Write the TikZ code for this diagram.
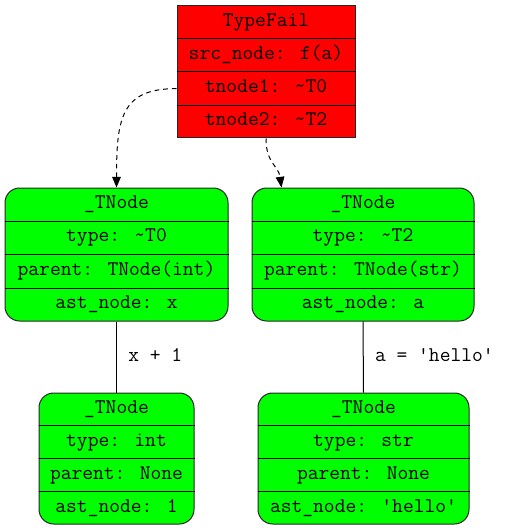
\documentclass[tikz,border=0pt]{standalone}
\usepackage{fontspec}
\usetikzlibrary{arrows.meta,calc,fit}
\newcommand\tl{\textasciitilde}
\newcommand\recrows[5]{%
  \node[rowtext] (#1-1) at ($(#1.north)!0.125!(#1.south)$) {#2};
  \node[rowtext] (#1-2) at ($(#1.north)!0.375!(#1.south)$) {#3};
  \node[rowtext] (#1-3) at ($(#1.north)!0.625!(#1.south)$) {#4};
  \node[rowtext] (#1-4) at ($(#1.north)!0.875!(#1.south)$) {#5};
  \foreach \f in {0.25,0.5,0.75}{
    \draw[divider] ($(#1.north west)!\f!(#1.south west)$) -- ($(#1.north east)!\f!(#1.south east)$);
  }
}
\tikzset{
  every picture/.style={line width=0.75pt},
  monofont/.style={font=\ttfamily\fontsize{15.7}{18}\selectfont},
  redbox/.style={draw=black!85, fill=red, inner sep=0pt},
  greenbox/.style={draw=black!85, fill=green, inner sep=0pt, rounded corners=11pt},
  rowtext/.style={monofont, inner sep=0pt, text height=0.6em, text depth=0pt},
  edgelabel/.style={monofont, inner sep=0pt, anchor=west, text height=0.6em, text depth=0pt},
  divider/.style={draw=black},
  dep/.style={draw=black, dash pattern=on 3.5pt off 3pt, -{Triangle[length=8pt,width=6.5pt]}},
  link/.style={draw=black}
}
\begin{document}
\begin{tikzpicture}[x=0.75pt,y=-0.75pt]
\useasboundingbox (0,0) rectangle (514,531);
% corner coordinates
\coordinate (tfA) at (177,6);   \coordinate (tfB) at (355,138);
\coordinate (t0A) at (5,188);   \coordinate (t0B) at (228,321);
\coordinate (t2A) at (252,188); \coordinate (t2B) at (474,321);
\coordinate (b0A) at (39,393);  \coordinate (b0B) at (194,524);
\coordinate (b2A) at (258,393); \coordinate (b2B) at (469,524);
\node[redbox, fit=(tfA)(tfB)] (tf) {};
\node[greenbox, fit=(t0A)(t0B)] (t0) {};
\node[greenbox, fit=(t2A)(t2B)] (t2) {};
\node[greenbox, fit=(b0A)(b0B)] (b0) {};
\node[greenbox, fit=(b2A)(b2B)] (b2) {};
\recrows{tf}{TypeFail}{src\_node: f(a)}{tnode1: \tl T0}{tnode2: \tl T2}
\recrows{t0}{\_TNode}{type: \tl T0}{parent: TNode(int)}{ast\_node: x}
\recrows{t2}{\_TNode}{type: \tl T2}{parent: TNode(str)}{ast\_node: a}
\recrows{b0}{\_TNode}{type: int}{parent: None}{ast\_node: 1}
\recrows{b2}{\_TNode}{type: str}{parent: None}{ast\_node: 'hello'}
% edges
\coordinate (t2in) at ($(t2.north west)+(30,0)$);
\draw[dep] (tf.west |- tf-3.center) .. controls +(-55,0) and +(0,-70) .. (t0.north);
\draw[dep] (tf.south) .. controls +(0,25) and +(-3,-22) .. (t2in);
\draw[link] (t0.south) -- node[edgelabel, xshift=8.5pt] (l0) {x + 1} (b0.north);
\draw[link] (t2.south) -- node[edgelabel, xshift=8.5pt] (l2) {a = 'hello'} (b2.north);
\end{tikzpicture}
\end{document}
